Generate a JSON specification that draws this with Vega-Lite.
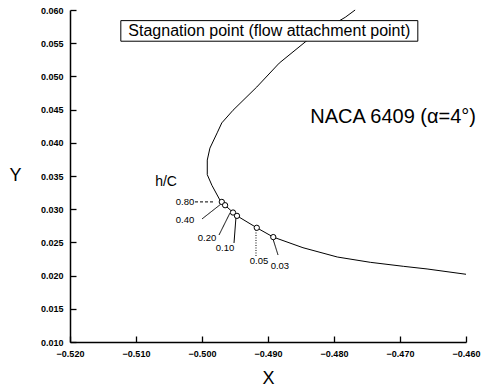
{
  "$schema": "https://vega.github.io/schema/vega-lite/v6.json",
  "width": 396,
  "height": 332,
  "autosize": "none",
  "padding": {"left": 70, "top": 10, "right": 15, "bottom": 48},
  "background": "white",
  "config": {"view": {"stroke": null}, "font": "Liberation Sans"},
  "datasets": {
    "curve": [
      {"i": 1, "x": -0.4768, "y": 0.0600},
      {"i": 2, "x": -0.4783, "y": 0.0589},
      {"i": 3, "x": -0.4836, "y": 0.0558},
      {"i": 4, "x": -0.4883, "y": 0.0520},
      {"i": 5, "x": -0.4917, "y": 0.0484},
      {"i": 6, "x": -0.4953, "y": 0.0449},
      {"i": 7, "x": -0.4970, "y": 0.0430},
      {"i": 8, "x": -0.4977, "y": 0.0415},
      {"i": 9, "x": -0.4988, "y": 0.0392},
      {"i": 10, "x": -0.4992, "y": 0.0374},
      {"i": 11, "x": -0.4992, "y": 0.0352},
      {"i": 12, "x": -0.4985, "y": 0.0336},
      {"i": 13, "x": -0.4973, "y": 0.0314},
      {"i": 14, "x": -0.4970, "y": 0.0311},
      {"i": 15, "x": -0.4965, "y": 0.0306},
      {"i": 16, "x": -0.4953, "y": 0.0295},
      {"i": 17, "x": -0.4947, "y": 0.0290},
      {"i": 18, "x": -0.4917, "y": 0.0272},
      {"i": 19, "x": -0.4892, "y": 0.0258},
      {"i": 20, "x": -0.4847, "y": 0.0242},
      {"i": 21, "x": -0.4795, "y": 0.0228},
      {"i": 22, "x": -0.4745, "y": 0.0220},
      {"i": 23, "x": -0.4695, "y": 0.0214},
      {"i": 24, "x": -0.4659, "y": 0.0210},
      {"i": 25, "x": -0.4600, "y": 0.0202}
    ],
    "markers": [
      {"hc": "0.80", "x": -0.4970, "y": 0.0311},
      {"hc": "0.40", "x": -0.4965, "y": 0.0306},
      {"hc": "0.20", "x": -0.4953, "y": 0.0295},
      {"hc": "0.10", "x": -0.4947, "y": 0.0290},
      {"hc": "0.05", "x": -0.4917, "y": 0.0272},
      {"hc": "0.03", "x": -0.4892, "y": 0.0258}
    ],
    "labels": [
      {"t": "0.80", "x": -0.50258, "y": 0.03109},
      {"t": "0.40", "x": -0.50258, "y": 0.02837},
      {"t": "0.20", "x": -0.49924, "y": 0.02566},
      {"t": "0.10", "x": -0.49651, "y": 0.02416},
      {"t": "0.05", "x": -0.49136, "y": 0.02215},
      {"t": "0.03", "x": -0.48820, "y": 0.02140}
    ],
    "leaders": [
      {"s": "dash", "x": -0.50106, "y": 0.0311, "x2": -0.49833, "y2": 0.0311},
      {"s": "solid", "x": -0.5000, "y": 0.02853, "x2": -0.49712, "y2": 0.03078},
      {"s": "solid", "x": -0.49742, "y": 0.02612, "x2": -0.49576, "y2": 0.02943},
      {"s": "solid", "x": -0.49515, "y": 0.02491, "x2": -0.49485, "y2": 0.02883},
      {"s": "dot", "x": -0.49182, "y": 0.02687, "x2": -0.49182, "y2": 0.02290},
      {"s": "solid", "x": -0.48924, "y": 0.02551, "x2": -0.48848, "y2": 0.02310}
    ],
    "box": [
      {"x": -0.5123, "x2": -0.4673, "y": 0.0584, "y2": 0.0553}
    ],
    "boxtext": [
      {"t": "Stagnation point (flow attachment point)", "x": -0.4898, "y": 0.05685}
    ],
    "naca": [
      {"t": "NACA 6409 (α=4°)", "x": -0.4836, "y": 0.0439}
    ],
    "hclabel": [
      {"t": "h/C", "x": -0.50545, "y": 0.0341}
    ]
  },
  "layer": [
    {
      "data": {"name": "curve"},
      "mark": {"type": "line", "color": "black", "strokeWidth": 1},
      "encoding": {
        "x": {"field": "x", "type": "quantitative",
          "scale": {"domain": [-0.52, -0.46], "nice": false, "zero": false},
          "axis": {"orient": "bottom", "values": [-0.52, -0.51, -0.5, -0.49, -0.48, -0.47, -0.46], "tickCount": 100,
            "format": ".3f", "grid": false, "domainColor": "black", "domainWidth": 1.5,
            "tickColor": "black", "tickSize": -6, "tickWidth": 1.3, "labelPadding": 13,
            "labelFontSize": 9, "labelFontWeight": "bold", "labelColor": "black",
            "labelFlush": false, "labelOverlap": false,
            "title": "X", "titleFontSize": 18, "titleFontWeight": "normal", "titleColor": "black",
            "titleBaseline": "middle", "titleY": 36}},
        "y": {"field": "y", "type": "quantitative",
          "scale": {"domain": [0.01, 0.06], "nice": false, "zero": false},
          "axis": {"orient": "left", "values": [0.01, 0.015, 0.02, 0.025, 0.03, 0.035, 0.04, 0.045, 0.05, 0.055, 0.06], "tickCount": 100,
            "format": ".3f", "grid": false, "domainColor": "black", "domainWidth": 1.5,
            "tickColor": "black", "tickSize": -6, "tickWidth": 1.3, "labelPadding": 13,
            "labelFontSize": 9, "labelFontWeight": "bold", "labelColor": "black",
            "labelFlush": false, "labelOverlap": false,
            "title": "Y", "titleFontSize": 18, "titleFontWeight": "normal", "titleColor": "black",
            "titleAngle": 0, "titleBaseline": "middle", "titleAlign": "center", "titleX": -55, "titleY": 165}},
        "order": {"field": "i", "type": "quantitative"}
      }
    },
    {
      "data": {"name": "leaders"},
      "mark": {"type": "rule", "color": "black", "strokeWidth": 1},
      "encoding": {
        "x": {"field": "x", "type": "quantitative"},
        "y": {"field": "y", "type": "quantitative"},
        "x2": {"field": "x2"},
        "y2": {"field": "y2"},
        "strokeDash": {"field": "s", "type": "nominal",
          "scale": {"domain": ["solid", "dash", "dot"], "range": [[1, 0], [3, 2], [1, 1.5]]}, "legend": null}
      }
    },
    {
      "data": {"name": "markers"},
      "mark": {"type": "point", "shape": "circle", "filled": true, "fill": "white", "stroke": "black", "strokeWidth": 1, "size": 28, "opacity": 1},
      "encoding": {
        "x": {"field": "x", "type": "quantitative"},
        "y": {"field": "y", "type": "quantitative"}
      }
    },
    {
      "data": {"name": "labels"},
      "mark": {"type": "text", "fontSize": 9.5, "color": "black", "align": "center", "baseline": "middle"},
      "encoding": {
        "x": {"field": "x", "type": "quantitative"},
        "y": {"field": "y", "type": "quantitative"},
        "text": {"field": "t"}
      }
    },
    {
      "data": {"name": "hclabel"},
      "mark": {"type": "text", "fontSize": 14, "color": "black", "align": "center", "baseline": "middle"},
      "encoding": {
        "x": {"field": "x", "type": "quantitative"},
        "y": {"field": "y", "type": "quantitative"},
        "text": {"field": "t"}
      }
    },
    {
      "data": {"name": "box"},
      "mark": {"type": "rect", "fill": "white", "stroke": "black", "strokeWidth": 1},
      "encoding": {
        "x": {"field": "x", "type": "quantitative"},
        "x2": {"field": "x2"},
        "y": {"field": "y", "type": "quantitative"},
        "y2": {"field": "y2"}
      }
    },
    {
      "data": {"name": "boxtext"},
      "mark": {"type": "text", "fontSize": 16, "color": "black", "align": "center", "baseline": "middle"},
      "encoding": {
        "x": {"field": "x", "type": "quantitative"},
        "y": {"field": "y", "type": "quantitative"},
        "text": {"field": "t"}
      }
    },
    {
      "data": {"name": "naca"},
      "mark": {"type": "text", "fontSize": 20, "color": "black", "align": "left", "baseline": "middle"},
      "encoding": {
        "x": {"field": "x", "type": "quantitative"},
        "y": {"field": "y", "type": "quantitative"},
        "text": {"field": "t"}
      }
    }
  ]
}
